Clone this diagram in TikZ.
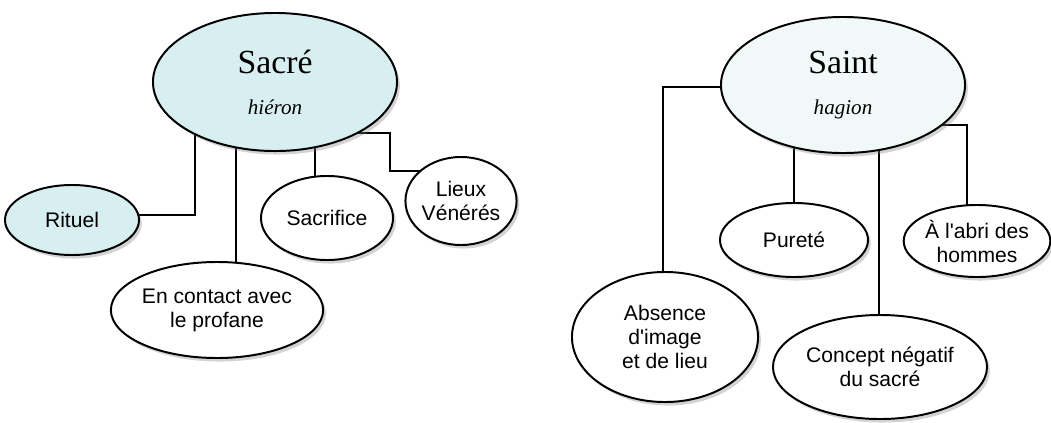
\documentclass[tikz,border=0pt]{standalone}
\usepackage{fontspec}
\setmainfont{Liberation Sans}[Ligatures=TeXOff]
\newfontfamily\titlefont{Liberation Serif}
\newcommand{\soustitre}{\titlefont\fontsize{15}{17}\selectfont\itshape}
\usetikzlibrary{shapes.geometric,shadows,calc,backgrounds}
\definecolor{sacrecyan}{HTML}{D8EFF1}
\definecolor{saintpale}{HTML}{F1F8F8}

\begin{document}
\begin{tikzpicture}[x=0.025cm, y=-0.025cm,
  bulle/.style={ellipse, draw, line width=1.4pt, fill=white, inner sep=0pt, align=center,
    font=\fontsize{15}{17}\selectfont,
    drop shadow={opacity=0.35, shadow xshift=2pt, shadow yshift=-2.5pt}},
  racine/.style={bulle, font=\titlefont\fontsize{24}{27}\selectfont},
  lien/.style={line width=0.9pt}]
\useasboundingbox (0,0) rectangle (1051,422);

% Sacre
\node[racine, fill=sacrecyan, minimum width=6.1cm, minimum height=3.45cm] (sacre) at (275,82)
  {Sacré\\[2pt]{\soustitre hiéron}};
\node[bulle, fill=sacrecyan, minimum width=3.35cm, minimum height=1.75cm] (rituel) at (72,220) {Rituel};
\node[bulle, minimum width=5.25cm, minimum height=2.4cm] (contact) at (217,310) {En contact avec\\le profane};
\node[bulle, minimum width=3.3cm, minimum height=2.1cm] (sacrifice) at (327,218) {Sacrifice};
\node[bulle, minimum width=2.7cm, minimum height=2.2cm] (lieux) at (461,201) {Lieux\\Vénérés};

% Saint
\node[racine, fill=saintpale, minimum width=6.1cm, minimum height=3.4cm] (saint) at (843,85)
  {Saint\\[2pt]{\soustitre hagion}};
\node[bulle, minimum width=4.65cm, minimum height=3.25cm] (absence) at (665,337) {Absence\\d'image\\et de lieu};
\node[bulle, minimum width=3.7cm, minimum height=1.85cm] (purete) at (794,240) {Pureté};
\node[bulle, minimum width=5.35cm, minimum height=2.6cm] (concept) at (880,367) {Concept négatif\\du sacré};
\node[bulle, minimum width=3.5cm, minimum height=1.8cm] (abri) at (977,241) {À l'abri des\\hommes};

% liens
\begin{pgfonlayer}{background}
\draw[lien] ($(rituel)+(0,-5)$) -| ($(sacre)+(-80,0)$);
\draw[lien] ($(contact)+(19,0)$) -- ($(sacre)+(-39,0)$);
\draw[lien] ($(sacrifice)+(-12,0)$) -- ($(sacre)+(40,0)$);
\draw[lien] ($(sacre)+(0,51)$) -| ($(lieux)+(-71,-30)$) -- ($(lieux)+(0,-30)$);
\draw[lien] ($(saint)+(0,2)$) -| ($(absence)+(-2,0)$);
\draw[lien] ($(saint)+(-49,0)$) -- (purete);
\draw[lien] ($(saint)+(36,0)$) -- ($(concept)+(-1,0)$);
\draw[lien] ($(saint)+(0,40)$) -| ($(abri)+(-10,0)$);
\end{pgfonlayer}
\end{tikzpicture}
\end{document}
